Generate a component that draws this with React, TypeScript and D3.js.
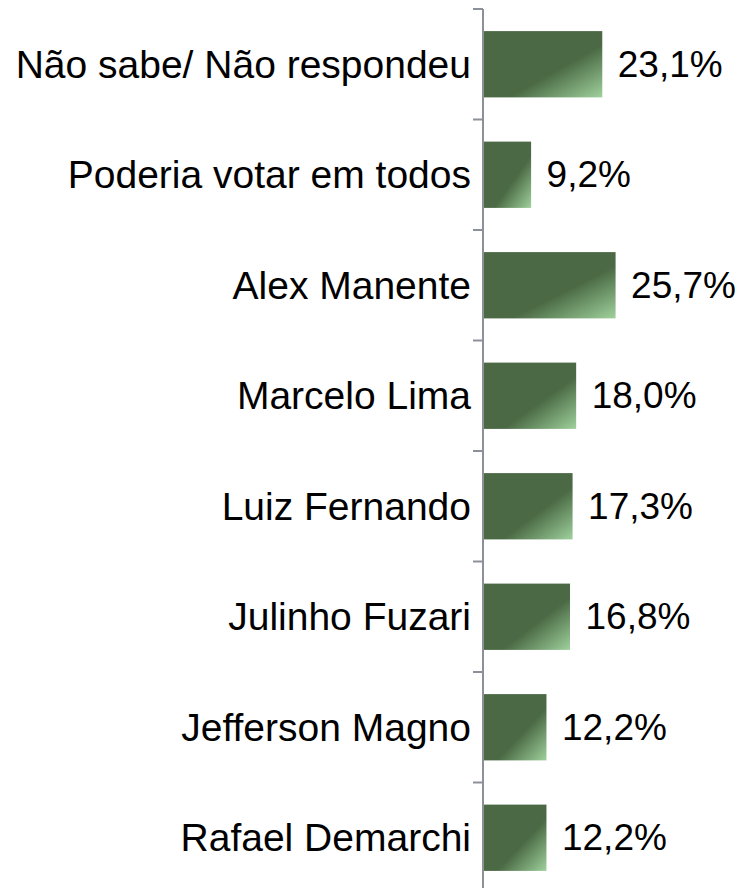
import React from "react";
import * as d3 from "d3";

const categories = [
  "Não sabe/ Não respondeu",
  "Poderia votar em todos",
  "Alex Manente",
  "Marcelo Lima",
  "Luiz Fernando",
  "Julinho Fuzari",
  "Jefferson Magno",
  "Rafael Demarchi",
];
const values = [23.1, 9.2, 25.7, 18.0, 17.3, 16.8, 12.2, 12.2];
const valueLabels = ["23,1%", "9,2%", "25,7%", "18,0%", "17,3%", "16,8%", "12,2%", "12,2%"];

export default function App() {
  const W = 740;
  const H = 888;
  const axisX = 483;
  const y = d3
    .scaleBand<string>()
    .domain(categories)
    .range([9, 9 + 110.5 * categories.length])
    .paddingInner(0.4)
    .paddingOuter(0.2);
  const x = d3.scaleLinear().domain([0, 10]).range([axisX + 1, axisX + 1 + 51.2]);
  const step = y.step();
  const tickYs = d3.range(categories.length + 1).map((i) => 9 + i * step);
  const font = "'Liberation Sans', Arial, sans-serif";
  return (
    <svg
      width={W}
      height={H}
      style={{ position: "absolute", left: 0, top: 0, background: "#fff" }}
    >
      <defs>
        <linearGradient id="barGrad" x1="0" y1="0" x2="1" y2="1">
          <stop offset="0" stopColor="#4a6944" />
          <stop offset="0.6" stopColor="#4a6944" />
          <stop offset="1" stopColor="#9fd19c" />
        </linearGradient>
      </defs>
      {categories.map((c, i) => (
        <g key={c}>
          <rect
            x={x(0)}
            y={y(c)!}
            width={x(values[i]) - x(0)}
            height={y.bandwidth()}
            fill="url(#barGrad)"
          />
          <text
            x={471}
            y={y(c)! + y.bandwidth() / 2}
            textAnchor="end"
            dominantBaseline="central"
            fontFamily={font}
            fontSize={39}
            fill="#000"
          >
            {c}
          </text>
          <text
            x={x(values[i]) + 15.5}
            y={y(c)! + y.bandwidth() / 2}
            textAnchor="start"
            dominantBaseline="central"
            fontFamily={font}
            fontSize={37}
            fill="#000"
          >
            {valueLabels[i]}
          </text>
        </g>
      ))}
      <line x1={axisX} x2={axisX} y1={9} y2={H} stroke="#8c9099" strokeWidth={2} />
      {tickYs.map((t, i) => (
        <line key={i} x1={473} x2={axisX} y1={t} y2={t} stroke="#8c9099" strokeWidth={2} />
      ))}
    </svg>
  );
}
